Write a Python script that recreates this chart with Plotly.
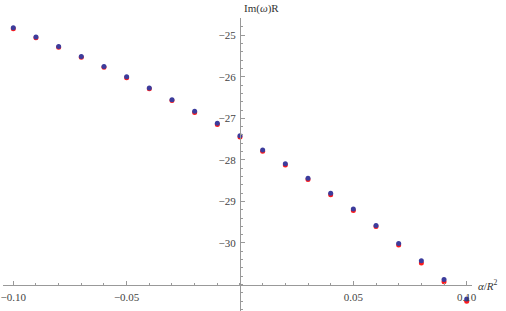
import plotly.graph_objects as go

alpha = [-0.10, -0.09, -0.08, -0.07, -0.06, -0.05, -0.04, -0.03, -0.02, -0.01, 0.0,
         0.01, 0.02, 0.03, 0.04, 0.05, 0.06, 0.07, 0.08, 0.09, 0.10]
im_blue = [-24.82, -25.04, -25.27, -25.51, -25.75, -26.00, -26.27, -26.55, -26.83, -27.12, -27.42,
           -27.76, -28.09, -28.44, -28.80, -29.18, -29.58, -30.01, -30.43, -30.88, -31.35]
im_red = [-24.84, -25.06, -25.29, -25.53, -25.77, -26.02, -26.29, -26.57, -26.86, -27.15, -27.45,
          -27.79, -28.12, -28.47, -28.84, -29.22, -29.60, -30.05, -30.48, -30.93, -31.40]

x_tickvals = [-0.10, -0.05, 0.05, 0.10]
x_ticktext = ["\u22120.10", "\u22120.05", "0.05", "0.10"]
y_tickvals = [-25, -26, -27, -28, -29, -30]
y_ticktext = ["\u221225", "\u221226", "\u221227", "\u221228", "\u221229", "\u221230"]

xr = [-0.10454, 0.10234]
yr = [-31.637, -24.584]
xcross = -31.0
ycross = 0.0

fig = go.Figure()
fig.add_trace(go.Scatter(x=alpha, y=im_red, mode="markers",
                         marker=dict(color="#ff1a1a", size=5, line=dict(width=0)),
                         hoverinfo="skip"))
fig.add_trace(go.Scatter(x=alpha, y=im_blue, mode="markers",
                         marker=dict(color="#3c3c9c", size=5, line=dict(width=0)),
                         hoverinfo="skip"))

axis_col = "#999999"
serif = "Liberation Serif"
font = dict(family=serif, size=11, color="#444444")

fig.update_layout(
    width=506, height=311,
    margin=dict(l=3, r=34, t=18, b=0, autoexpand=False),
    paper_bgcolor="white", plot_bgcolor="white",
    showlegend=False,
    font=font,
    xaxis=dict(range=xr, showgrid=False, zeroline=False, automargin=False,
               showline=True, linecolor=axis_col, linewidth=1,
               anchor="free", position=(xcross - yr[0]) / (yr[1] - yr[0]),
               tickmode="array", tickvals=x_tickvals, ticktext=x_ticktext,
               ticks="inside", ticklen=4, tickcolor=axis_col, tickwidth=1,
               minor=dict(tickmode="linear", tick0=0, dtick=0.01, ticks="inside",
                          ticklen=2, tickcolor=axis_col, tickwidth=1),
               tickfont=font, ticklabelstandoff=2, ticklabeloverflow="allow"),
    yaxis=dict(range=yr, showgrid=False, zeroline=False, automargin=False,
               showline=True, linecolor=axis_col, linewidth=1,
               anchor="free", position=(ycross - xr[0]) / (xr[1] - xr[0]),
               tickmode="array", tickvals=y_tickvals, ticktext=y_ticktext,
               ticks="inside", ticklen=4, tickcolor=axis_col, tickwidth=1,
               minor=dict(tickmode="linear", tick0=0, dtick=0.2, ticks="inside",
                          ticklen=2, tickcolor=axis_col, tickwidth=1),
               tickfont=font, ticklabelstandoff=2, ticklabeloverflow="allow"),
    annotations=[
        dict(text="Im(<i>\u03c9</i>)R", xref="x", yref="paper", x=0, y=1,
             xanchor="left", yanchor="bottom", xshift=2, yshift=1, showarrow=False,
             font=dict(family=serif, size=11, color="#333333")),
        dict(text="<i>\u03b1</i>/<i>R</i><sup>2</sup>", xref="paper", yref="y", x=1, y=xcross,
             xanchor="left", yanchor="middle", xshift=4, showarrow=False,
             font=dict(family=serif, size=11, color="#333333")),
    ],
)

fig.write_html("out.html", config={"displayModeBar": False, "staticPlot": True},
               post_script="document.body.style.margin='0';document.body.style.padding='0';")
